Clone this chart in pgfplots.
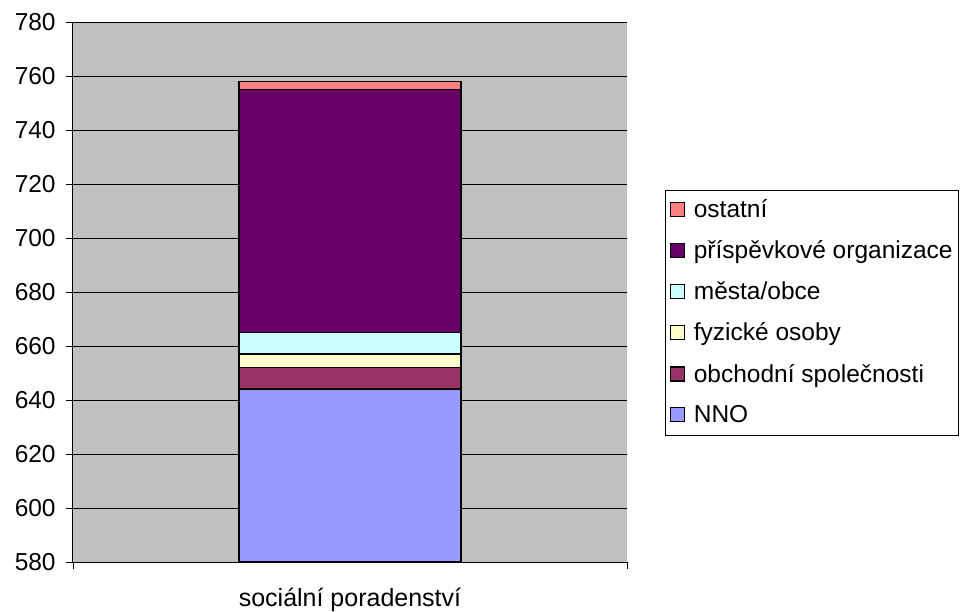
\documentclass[border=0pt]{standalone}
\usepackage{pgfplots}
\pgfplotsset{compat=1.18}
\usepackage{fontspec}
\setmainfont{Liberation Sans}
\definecolor{cnno}{HTML}{9999FF}
\definecolor{cobch}{HTML}{993366}
\definecolor{cfyz}{HTML}{FFFFCC}
\definecolor{cmes}{HTML}{CCFFFF}
\definecolor{cpri}{HTML}{660066}
\definecolor{cost}{HTML}{FF8080}
\definecolor{bggray}{HTML}{C0C0C0}
\begin{document}
\fontsize{24.5}{29}\selectfont
\begin{tikzpicture}
\useasboundingbox (-73pt,-49pt) rectangle (889pt,562pt);
\begin{axis}[
  at={(0pt,0pt)}, anchor=south west,
  scale only axis, width=554pt, height=540pt,
  ybar stacked, bar width=222pt,
  xmin=-0.5, xmax=0.5, ymin=580, ymax=780,
  ytick={580,600,...,780},
  ymajorgrids, grid style={black, line width=0.9pt},
  axis background/.style={fill=bggray},
  axis x line*=bottom, axis y line*=left,
  axis line style={black, line width=1pt, -},
  xtick={-0.5,0.5}, xticklabels={{},{}},
  extra x ticks={0}, extra x tick labels={sociální poradenství},
  extra x tick style={major tick length=0pt, grid=none, xticklabel style={yshift=-18pt, font=\fontsize{25}{29}\selectfont}},
  tick align=outside, major tick length=7pt,
  tick style={black, line width=0.9pt},
  /pgf/number format/assume math mode=true,
  ticklabel style={font=\fontsize{24.5}{29}\selectfont},
  yticklabel style={xshift=-2pt},
  reverse legend,
  legend style={at={(axis description cs:1.0686,0.6889)}, anchor=north west,
    draw=black, line width=1pt, fill=white, font=\fontsize{24.5}{29}\selectfont,
    row sep=15.5pt, inner xsep=4pt, inner ysep=7pt},
  legend cell align=left,
  legend image code/.code={\draw[#1,draw=black,line width=1.2pt] (0pt,-6pt) rectangle (14pt,8pt); \path (21pt,0pt);},
  every axis plot/.append style={draw=black, line width=1.5pt},
]
\addplot[fill=cnno] coordinates {(0,644)};
\addplot[fill=cobch] coordinates {(0,8)};
\addplot[fill=cfyz] coordinates {(0,5)};
\addplot[fill=cmes] coordinates {(0,8)};
\addplot[fill=cpri] coordinates {(0,90)};
\addplot[fill=cost] coordinates {(0,3)};
\legend{NNO, obchodní společnosti, fyzické osoby, města/obce, příspěvkové organizace, ostatní}
\end{axis}
\end{tikzpicture}
\end{document}
